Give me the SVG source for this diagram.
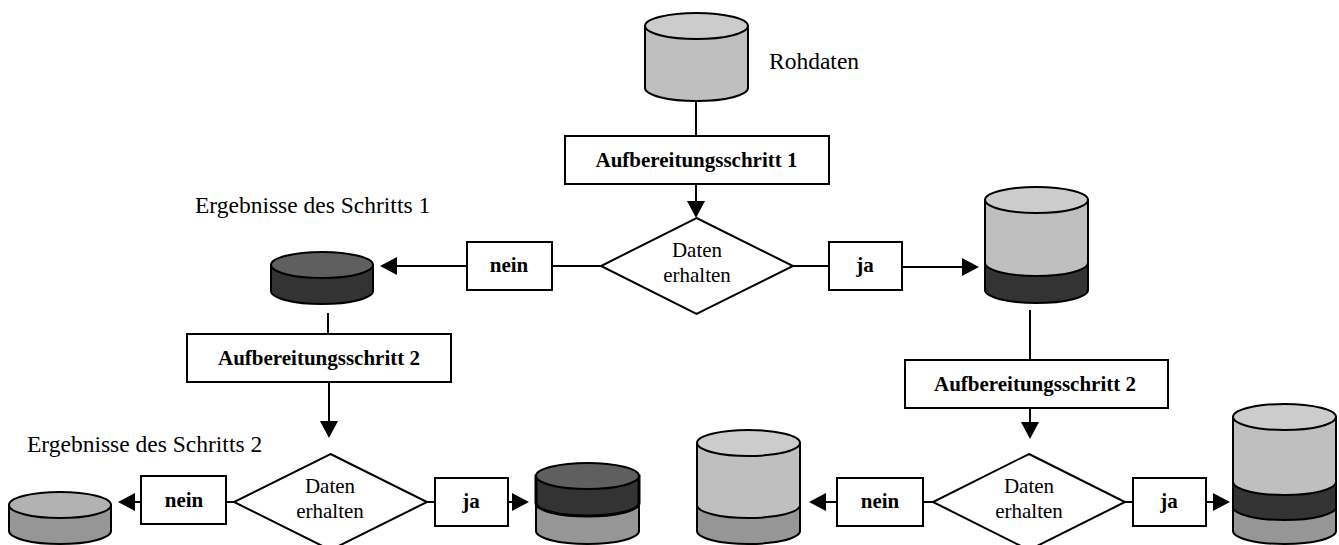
<svg xmlns="http://www.w3.org/2000/svg" width="1339" height="545" viewBox="0 0 1339 545">
<style>
.n{fill:#fff;stroke:#000;stroke-width:2}
.c{fill:none;stroke:#000;stroke-width:2}
.cyl path,.cyl ellipse{stroke:#000;stroke-width:2}
.l{fill:#bfbfbf}.lt{fill:#cccccc}.d{fill:#333333}.dt{fill:#5f5f5f}.m{fill:#969696}.mt{fill:#b2b2b2}
text{font-family:"Liberation Serif","Times New Roman",serif;font-size:23.5px;fill:#000}
.b{font-weight:bold;text-anchor:middle;font-size:21px}
.t{text-anchor:middle;font-size:21px}
</style>
<defs>
<marker id="a" markerUnits="userSpaceOnUse" markerWidth="17" markerHeight="18" viewBox="0 0 17 18" refX="15" refY="9" orient="auto"><path d="M0,0L17,9L0,18Z" fill="#000"/></marker>
</defs>
<g id="connectors">
<path class="c" d="M696,101V136"/>
<path class="c" d="M696,184V216" marker-end="url(#a)"/>
<path class="c" d="M601,266H552"/>
<path class="c" d="M467,266H382" marker-end="url(#a)"/>
<path class="c" d="M793,266H829"/>
<path class="c" d="M902,267H977" marker-end="url(#a)"/>
<path class="c" d="M328,313V334"/>
<path class="c" d="M329,382V436" marker-end="url(#a)"/>
<path class="c" d="M1030,310V360"/>
<path class="c" d="M1030,408V437" marker-end="url(#a)"/>
<path class="c" d="M234,502H226"/>
<path class="c" d="M141,502H120" marker-end="url(#a)"/>
<path class="c" d="M427,502H435"/>
<path class="c" d="M508,502H527" marker-end="url(#a)"/>
<path class="c" d="M933,502H923"/>
<path class="c" d="M837,502H811" marker-end="url(#a)"/>
<path class="c" d="M1125,502H1133"/>
<path class="c" d="M1206,502H1228" marker-end="url(#a)"/>
</g>
<g id="cyl-rohdaten" class="cyl">
<path class="l" d="M645,26V88A51.5,13 0 0 0 748,88V26Z"/>
<ellipse class="lt" cx="696.500" cy="26" rx="51.500" ry="13"/>
</g>
<text id="label-rohdaten" x="769" y="69">Rohdaten</text>
<g id="step1"><rect class="n" x="565" y="136" width="264" height="48"/><text class="b" x="696.500" y="167">Aufbereitungsschritt 1</text></g>
<g id="decision1"><path class="n" d="M696.500,218L793,266L696.500,314L601,266Z"/><text class="t" x="697" y="257">Daten</text><text class="t" x="697" y="282">erhalten</text></g>
<g id="nein1"><rect class="n" x="467" y="242" width="85" height="48"/><text class="b" x="509" y="272">nein</text></g>
<g id="ja1"><rect class="n" x="829" y="242" width="73" height="48"/><text class="b" x="865" y="272">ja</text></g>
<text id="label-ergebnis1" x="195" y="213">Ergebnisse des Schritts 1</text>
<g id="cyl-res1-nein" class="cyl">
<path class="d" d="M271,265V291A51,13 0 0 0 373,291V265Z"/>
<ellipse class="dt" cx="322" cy="265" rx="51" ry="13"/>
</g>
<g id="cyl-res1-ja" class="cyl">
<path class="d" d="M985,255V290A51.5,13 0 0 0 1088,290V255Z"/>
<path class="l" d="M985,200V263A51.5,13 0 0 0 1088,263V200Z"/>
<ellipse class="lt" cx="1036.500" cy="200" rx="51.500" ry="13"/>
</g>
<g id="step2-left"><rect class="n" x="187" y="334" width="264" height="48"/><text class="b" x="319" y="365">Aufbereitungsschritt 2</text></g>
<g id="step2-right"><rect class="n" x="905" y="360" width="263" height="48"/><text class="b" x="1035" y="391">Aufbereitungsschritt 2</text></g>
<text id="label-ergebnis2" x="27" y="452">Ergebnisse des Schritts 2</text>
<g id="decision2"><path class="n" d="M330.500,454L427,502L330.500,550L234,502Z"/><text class="t" x="330" y="493">Daten</text><text class="t" x="330" y="518">erhalten</text></g>
<g id="nein2"><rect class="n" x="141" y="476" width="85" height="48"/><text class="b" x="184" y="507">nein</text></g>
<g id="ja2"><rect class="n" x="435" y="478" width="73" height="48"/><text class="b" x="471" y="508">ja</text></g>
<g id="cyl-res2-nein" class="cyl">
<path class="m" d="M9,505V531A51,13 0 0 0 111,531V505Z"/>
<ellipse class="mt" cx="60" cy="505" rx="51" ry="13"/>
</g>
<g id="cyl-res2-ja" class="cyl">
<path class="m" d="M536,495V531A51.5,13 0 0 0 639,531V495Z"/>
<path class="d" d="M536,476V503A51.5,13 0 0 0 639,503V476Z" style="stroke-width:3"/>
<ellipse class="dt" cx="587.500" cy="476" rx="51.500" ry="13"/>
</g>
<g id="decision3"><path class="n" d="M1029,454L1125,502L1029,550L933,502Z"/><text class="t" x="1029" y="493">Daten</text><text class="t" x="1029" y="518">erhalten</text></g>
<g id="nein3"><rect class="n" x="837" y="478" width="86" height="48"/><text class="b" x="880" y="508">nein</text></g>
<g id="ja3"><rect class="n" x="1133" y="478" width="73" height="48"/><text class="b" x="1169" y="508">ja</text></g>
<g id="cyl-res3-nein" class="cyl">
<path class="m" d="M697,495V531A51.5,13 0 0 0 800,531V495Z"/>
<path class="l" d="M697,443V505A51.5,13 0 0 0 800,505V443Z"/>
<ellipse class="lt" cx="748.500" cy="443" rx="51.500" ry="13"/>
</g>
<g id="cyl-res3-ja" class="cyl">
<path class="m" d="M1233,495V531A51.5,13 0 0 0 1336,531V495Z"/>
<path class="d" d="M1233,470V507A51.5,13 0 0 0 1336,507V470Z"/>
<path class="l" d="M1233,417V482A51.5,13 0 0 0 1336,482V417Z"/>
<ellipse class="lt" cx="1284.500" cy="417" rx="51.500" ry="13"/>
</g>
</svg>
